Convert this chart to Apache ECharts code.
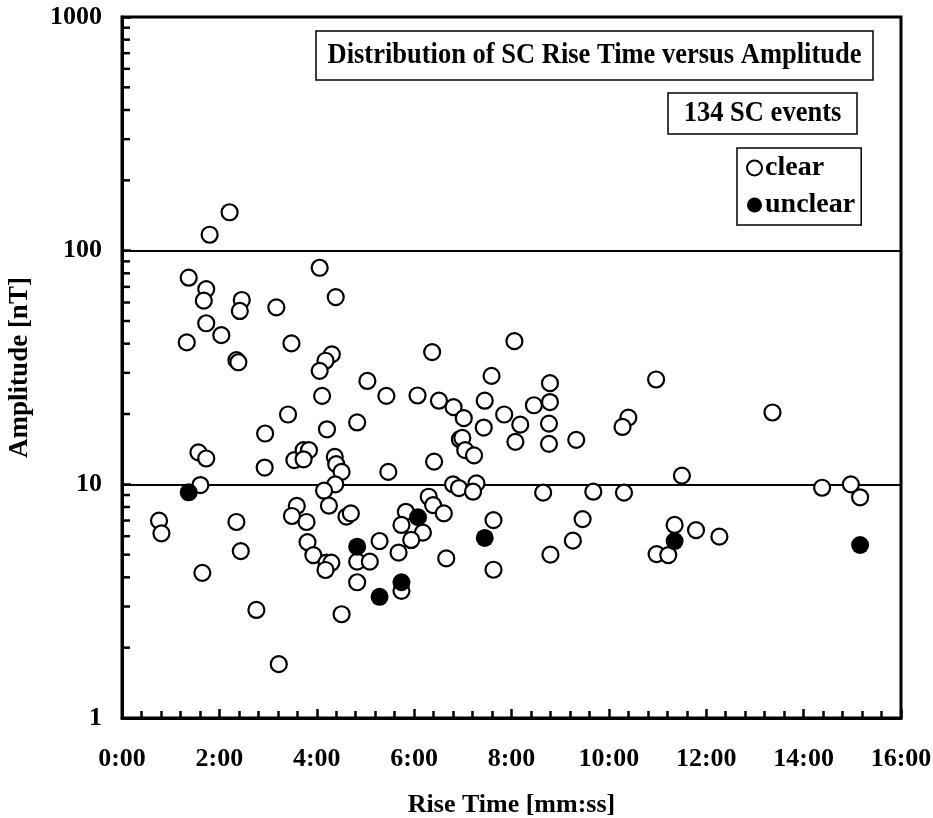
<!DOCTYPE html>
<html>
<head>
<meta charset="utf-8">
<script src="https://cdn.jsdelivr.net/npm/echarts@6/dist/echarts.min.js"></script>
<style>html,body{margin:0;padding:0;background:#fff}#c{width:933px;height:818px}</style>
</head>
<body>
<div id="c"></div>
<script>
// Rise time in minutes (decimal), amplitude in nT
const clearTime = [2.21,1.80,1.37,1.73,1.68,2.46,2.42,3.17,1.73,2.04,1.33,3.48,2.35,2.39,3.41,2.94,1.57,1.73,2.93,3.54,1.61,0.76,0.81,2.35,2.44,1.65,2.76,3.22,3.59,3.49,3.73,3.84,3.73,3.79,3.81,3.93,4.06,4.39,4.31,4.18,4.06,5.04,4.11,5.43,6.07,6.37,7.59,6.51,6.81,7.02,7.45,7.43,7.85,4.83,4.21,6.94,6.99,7.05,7.23,6.41,5.47,6.80,6.92,7.28,7.21,4.37,4.40,4.51,4.38,4.15,4.25,4.61,4.70,4.20,4.30,4.18,6.30,6.39,6.61,5.83,5.74,6.18,5.94,5.68,5.29,4.83,5.09,4.83,6.66,5.74,4.51,7.63,7.63,8.06,10.97,8.79,8.46,8.79,8.18,8.77,10.40,10.28,8.08,8.77,9.33,8.65,9.68,10.31,11.50,9.46,9.26,8.80,11.35,10.98,11.22,11.79,12.27,13.36,14.38,14.97,15.16];
const clearAmp = [146,117,76.6,68.5,61.1,61.5,55.2,57.2,48.9,43.5,40.5,40.1,34.0,33.3,19.9,16.5,13.7,12.9,11.8,12.7,9.93,6.99,6.17,6.90,5.18,4.18,2.90,1.70,8.08,7.32,14.0,14.0,12.8,6.90,5.66,4.98,84.5,63.3,36.0,33.8,30.6,27.7,23.9,23.9,24.0,36.8,29.1,22.8,21.4,19.2,22.8,17.5,19.9,18.4,17.2,15.6,15.8,14.0,13.3,12.5,11.3,10.0,9.64,10.1,9.30,13.1,12.2,11.3,10.0,9.39,8.10,7.27,7.51,4.62,4.62,4.30,8.85,8.15,7.51,7.63,6.70,6.21,5.78,5.10,5.72,4.67,4.67,3.81,4.82,3.50,2.78,7.03,4.31,41.0,28.1,27.1,21.8,22.5,18.0,18.2,19.3,17.6,15.2,14.9,15.5,9.21,9.30,9.21,10.9,7.10,5.74,5.00,6.70,5.03,4.98,6.37,5.97,20.3,9.67,10.0,8.80];
const unclearTime = [1.37,6.08,4.83,5.74,5.29,7.45,11.35,15.16];
const unclearAmp = [9.24,7.23,5.41,3.81,3.30,5.90,5.72,5.50];
const yMinorTicks = [2,3,4,5,6,7,8,9,20,30,40,50,60,70,80,90,200,300,400,500,600,700,800,900];
const titleText = 'Distribution of SC Rise Time versus Amplitude';
const countText = '134 SC events';

const FONT = '"Liberation Serif", "Times New Roman", serif';
const zip = (a, b) => a.map((v, i) => [v, b[i]]);
const fmt = v => { const m = Math.floor(v + 1e-9); const s = Math.round((v - m) * 60); return m + ':' + (s < 10 ? '0' : '') + s; };

const chart = echarts.init(document.getElementById('c'), null, {renderer: 'canvas'});
chart.setOption({
  animation: false,
  backgroundColor: '#fff',
  grid: {left: 122, right: 32, top: 17, bottom: 100, containLabel: false, outerBoundsMode: 'none', show: true, borderColor: '#000', borderWidth: 3, backgroundColor: 'transparent'},
  xAxis: {
    type: 'value', min: 0, max: 16, interval: 2,
    name: 'Rise Time [mm:ss]', nameLocation: 'middle', nameGap: 74,
    nameTextStyle: {fontFamily: FONT, fontWeight: 'bold', fontSize: 26, color: '#000'},
    axisLine: {lineStyle: {color: '#000', width: 3}},
    axisTick: {inside: true, length: 9, lineStyle: {color: '#000', width: 2.5}},
    minorTick: {show: true, splitNumber: 5, length: 7, lineStyle: {color: '#000', width: 2.5}},
    axisLabel: {fontFamily: FONT, fontWeight: 'bold', fontSize: 26, color: '#000', margin: 28, formatter: fmt},
    splitLine: {show: false}
  },
  yAxis: {
    type: 'log', logBase: 10, min: 1, max: 1000,
    name: 'Amplitude [nT]', nameLocation: 'middle', nameGap: 88,
    nameTextStyle: {fontFamily: FONT, fontWeight: 'bold', fontSize: 27, color: '#000'},
    axisLine: {lineStyle: {color: '#000', width: 3}},
    axisTick: {inside: true, length: 9, lineStyle: {color: '#000', width: 2.5}},
    axisLabel: {fontFamily: FONT, fontWeight: 'bold', fontSize: 26, color: '#000', margin: 20, formatter: v => String(v)},
    splitLine: {show: true, lineStyle: {color: '#000', width: 2}},
    minorTick: {show: false}
  },
  legend: {
    data: ['clear', 'unclear'], orient: 'vertical', left: 737, top: 148,
    borderColor: '#000', borderWidth: 1.5, padding: [6, 6, 6, 9], itemGap: 9,
    itemWidth: 15, itemHeight: 15,
    textStyle: {fontFamily: FONT, fontWeight: 'bold', fontSize: 28, color: '#000', padding: [0, 0, 0, -2]}
  },
  graphic: [
    {type: 'rect', x: 316, y: 31, shape: {width: 557, height: 49}, style: {fill: '#fff', stroke: '#000', lineWidth: 1.5}, z: 100},
    {type: 'text', x: 594.5, y: 55.5, scaleY: 1.15, style: {text: titleText, x: 0, y: 0, align: 'center', verticalAlign: 'middle', font: 'bold 26.5px ' + FONT, fill: '#000'}, z: 101},
    {type: 'rect', x: 668, y: 93, shape: {width: 189, height: 41}, style: {fill: '#fff', stroke: '#000', lineWidth: 1.5}, z: 100},
    {type: 'text', x: 762.5, y: 113.5, scaleY: 1.15, style: {text: countText, x: 0, y: 0, align: 'center', verticalAlign: 'middle', font: 'bold 26.5px ' + FONT, fill: '#000'}, z: 101}
  ],
  series: [
    {
      name: 'yminor', type: 'custom', silent: true, clip: false, z: 5,
      data: yMinorTicks.map(v => [0, v]),
      renderItem: (params, api) => {
        const p = api.coord([api.value(0), api.value(1)]);
        return {type: 'line', shape: {x1: p[0], y1: p[1], x2: p[0] + 8, y2: p[1]}, style: {stroke: '#000', lineWidth: 2.5}};
      }
    },
    {
      name: 'clear', type: 'scatter', data: zip(clearTime, clearAmp),
      symbol: 'circle', symbolSize: 16,
      itemStyle: {color: '#fff', borderColor: '#000', borderWidth: 2.2, opacity: 1}, z: 10
    },
    {
      name: 'unclear', type: 'scatter', data: zip(unclearTime, unclearAmp),
      symbol: 'circle', symbolSize: 18,
      itemStyle: {color: '#000', borderColor: '#000', borderWidth: 0, opacity: 1}, z: 11
    }
  ]
});
</script>
</body>
</html>
